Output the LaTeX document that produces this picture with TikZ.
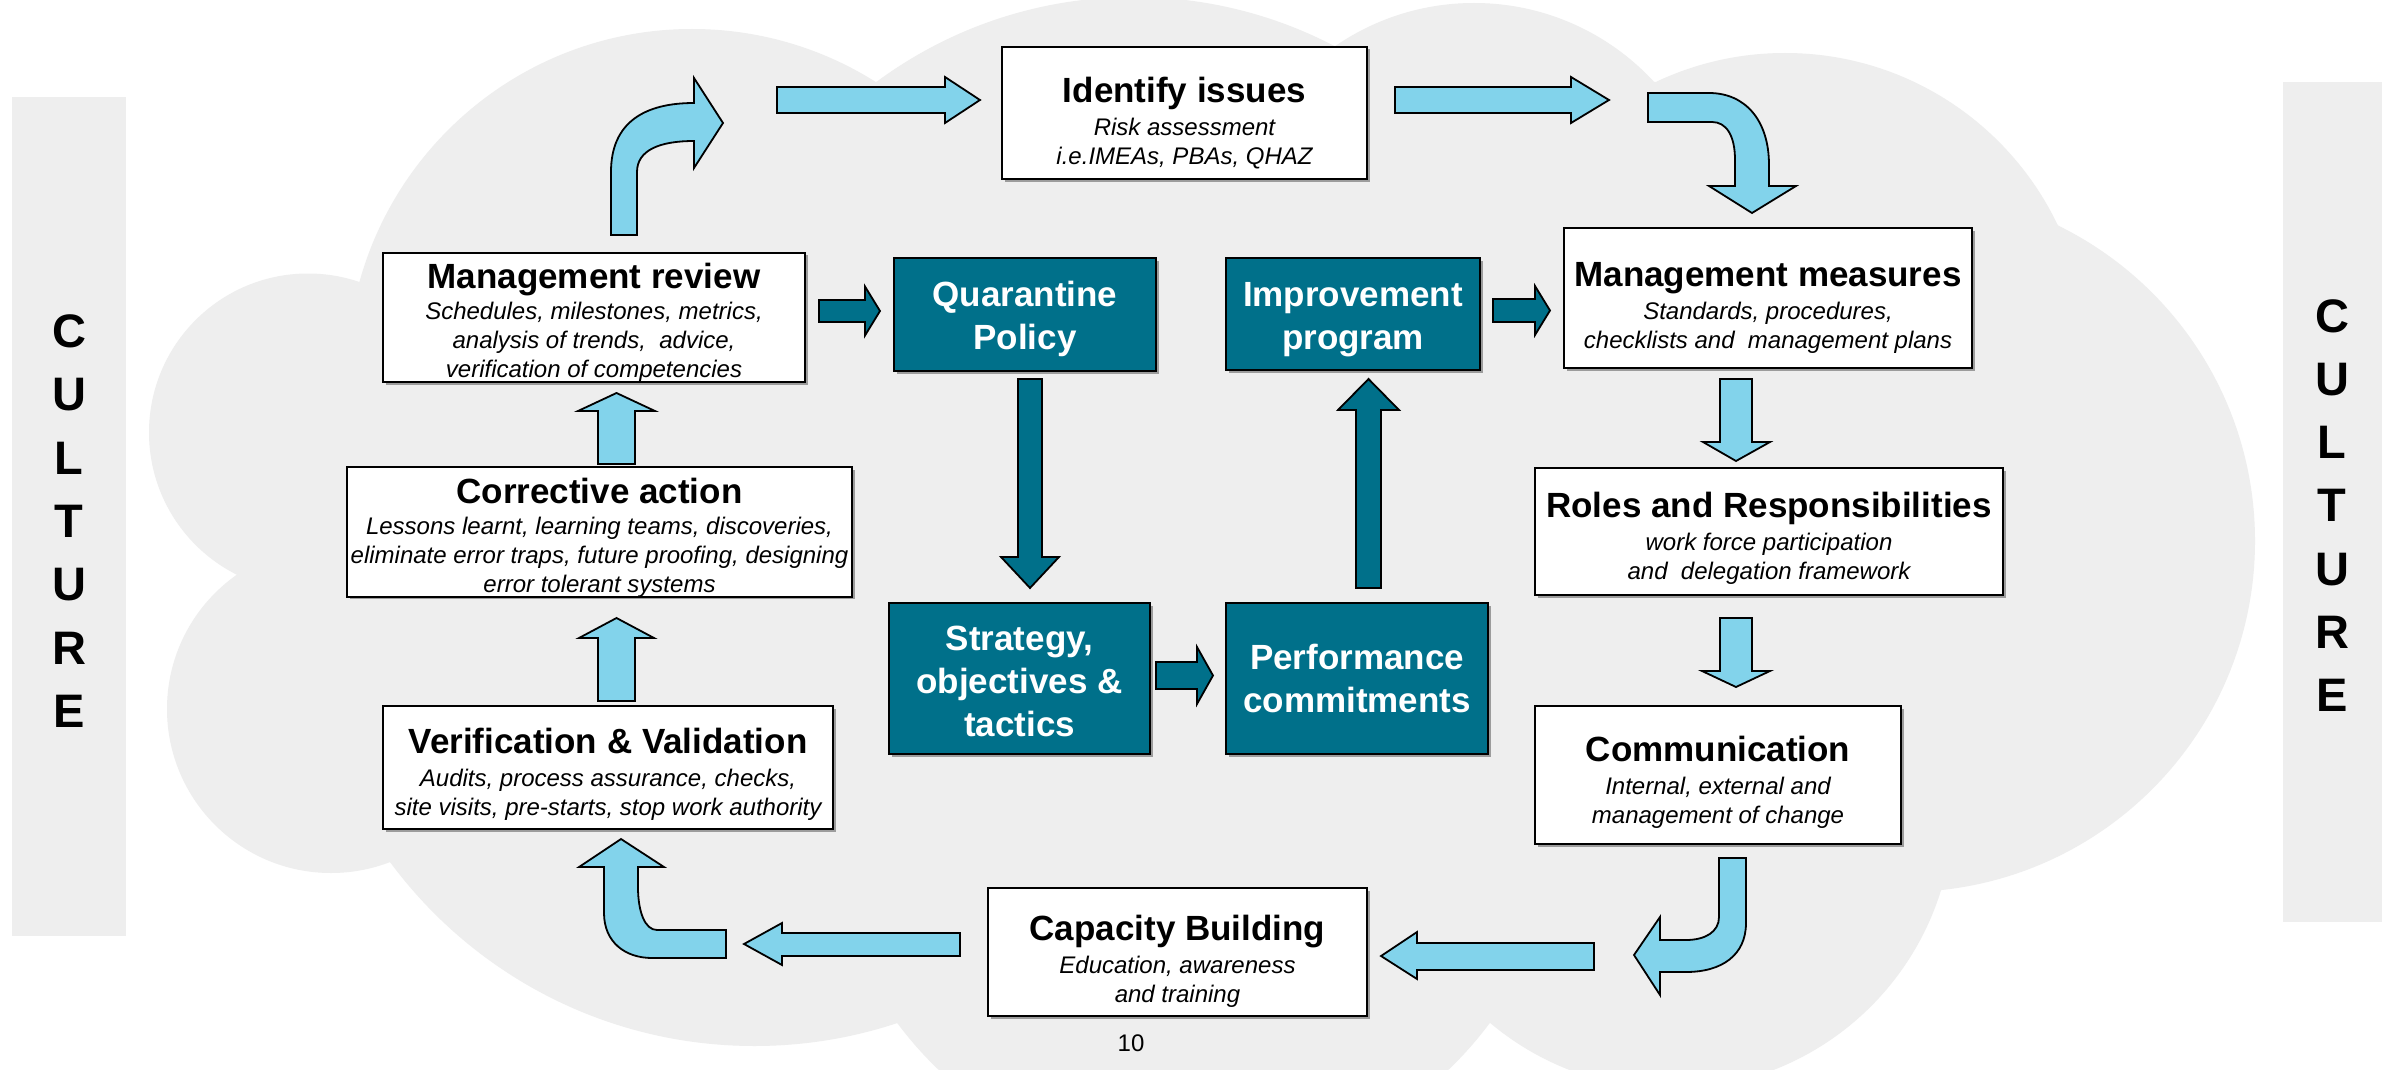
\documentclass[tikz,border=0pt]{standalone}
\usepackage{fontspec}
\setmainfont{Liberation Sans}
\usetikzlibrary{shadows}
\definecolor{cloudgray}{HTML}{EEEEEE}
\definecolor{lightarr}{RGB}{130,211,235}
\definecolor{tealbox}{RGB}{0,112,138}
\newcommand\boxtitle{\fontsize{35}{40}\selectfont\bfseries\upshape}
\newcommand\boxsub{\fontsize{24}{29}\selectfont\itshape}
\newcommand\darktxt{\fontsize{35}{43}\selectfont\bfseries}
\newcommand\ttlline[2]{{\boxtitle\rule{0pt}{#1pt}#2}}
\begin{document}
\begin{tikzpicture}[x=1pt,y=-1pt,
  wbox/.style={draw=black, line width=2pt, fill=white, align=center, inner sep=0pt, font=\boxsub,
    drop shadow={shadow xshift=2.5pt, shadow yshift=-2.5pt, fill=black!60, opacity=0.6}},
  dbox/.style={draw=black, line width=2pt, fill=tealbox, text=white, align=center, inner sep=0pt,
    font=\darktxt, drop shadow={shadow xshift=2.5pt, shadow yshift=-2.5pt, fill=black!60, opacity=0.6}},
  larr/.style={fill=lightarr, draw=black, line width=1.8pt, line join=miter},
  darr/.style={fill=tealbox, draw=black, line width=1.8pt, line join=miter},
  bar/.style={fill=cloudgray, draw=none},
  cultxt/.style={font=\fontsize{47}{63.3}\selectfont\bfseries, align=center, inner sep=0pt}]
\useasboundingbox (0,0) rectangle (2386,1070);
\clip (0,0) rectangle (2386,1070);
\fill[white] (0,0) rectangle (2386,1070);
% cloud
\begin{scope}[fill=cloudgray]
\fill (360,282) -- (876,82) -- (1335,46) -- (1655,82) -- (2058,225) -- (1941,890)
      -- (1490,1023) -- (897,1023) -- (390,862) -- (237,575) -- cycle;
\fill (692,374) circle[radius=345pt];
\fill (1134,430) circle[radius=433pt];
\fill (1474,248) circle[radius=245pt];
\fill (1785,355) circle[radius=302pt];
\fill (1904,541) circle[radius=351pt];
\fill (1671.5,807) circle[radius=282pt];
\fill (1193.5,803) circle[radius=369pt];
\fill (754.5,593) circle[radius=453pt];
\fill (331,709) circle[radius=164pt];
\fill (308,432.5) circle[radius=159pt];
\end{scope}
% culture bars
\fill[bar] (12,97) rectangle (126,936);
\fill[bar] (2283,82) rectangle (2382,922);
\node[cultxt] (cultL) at (69,521) {C\\U\\L\\T\\U\\R\\E};
\node[cultxt] (cultR) at (2332,505.5) {C\\U\\L\\T\\U\\R\\E};
% white boxes
\node[wbox, minimum width=365pt, minimum height=132pt] (ident) at (1184.5,113)
  {\ttlline{46}{Identify issues}\\[4pt]Risk assessment\\i.e.IMEAs, PBAs, QHAZ};
\node[wbox, minimum width=408pt, minimum height=140pt] (mm) at (1768,298)
  {\ttlline{43}{Management measures}\\[4pt]Standards, procedures,\\checklists and\ \ management plans};
\node[wbox, minimum width=468pt, minimum height=127pt] (roles) at (1769,531.5)
  {\ttlline{39}{Roles and Responsibilities}\\[4pt]work force participation\\and\ \ delegation framework};
\node[wbox, minimum width=366pt, minimum height=138pt] (comm) at (1718,775)
  {\ttlline{39}{Communication}\\[4pt]Internal, external and\\management of change};
\node[wbox, minimum width=379pt, minimum height=128pt] (cap) at (1177.5,952)
  {\ttlline{44}{Capacity Building}\\[4pt]Education, awareness\\and training};
\node[wbox, minimum width=450pt, minimum height=123pt] (vv) at (608,767.5)
  {\ttlline{39}{Verification \& Validation}\\[4pt]Audits, process assurance, checks,\\site visits, pre-starts, stop work authority};
\node[wbox, minimum width=505pt, minimum height=128pt] (corr) at (599.5,532)
  {\ttlline{36}{Corrective action}\\[2pt]Lessons learnt, learning teams, discoveries,\\eliminate error traps, future proofing, designing\\error tolerant systems};
\node[wbox, minimum width=422pt, minimum height=123pt] (mr) at (594,317.5)
  {\ttlline{36}{Management review}\\[2pt]Schedules, milestones, metrics,\\analysis of trends,\ \ advice,\\verification of competencies};
% dark boxes
\node[dbox, minimum width=262pt, minimum height=113pt] (qp) at (1025,314.5) {\rule{0pt}{34pt}Quarantine\\Policy};
\node[dbox, minimum width=254pt, minimum height=112pt] (ip) at (1353,314) {\rule{0pt}{36pt}Improvement\\program};
\node[dbox, minimum width=261pt, minimum height=151pt] (st) at (1019.5,678.5) {\rule{0pt}{30pt}Strategy,\\objectives \&\\tactics};
\node[dbox, minimum width=262pt, minimum height=151pt] (pc) at (1357,678.5) {Performance\\commitments};
% dark arrows
\draw[darr] (819,300) -- (865,300) -- (865,286.5) -- (880,311) -- (865,335.5) -- (865,322) -- (819,322) -- cycle;
\draw[darr] (1493,299) -- (1535,299) -- (1535,286) -- (1550,310.5) -- (1535,335) -- (1535,322) -- (1493,322) -- cycle;
\draw[darr] (1156,662) -- (1197,662) -- (1197,647) -- (1213,675.5) -- (1197,704) -- (1197,689) -- (1156,689) -- cycle;
\draw[darr] (1018,379) -- (1042,379) -- (1042,557) -- (1059,557) -- (1030,588) -- (1001,557) -- (1018,557) -- cycle;
\draw[darr] (1356,588) -- (1381,588) -- (1381,410) -- (1399,410) -- (1368.5,379) -- (1338,410) -- (1356,410) -- cycle;
% light straight arrows
\draw[larr] (777,87) -- (945,87) -- (945,77) -- (980,100) -- (945,123) -- (945,113) -- (777,113) -- cycle;
\draw[larr] (1395,87) -- (1571,87) -- (1571,77) -- (1609,100) -- (1571,123) -- (1571,113) -- (1395,113) -- cycle;
\draw[larr] (1720,379) -- (1752,379) -- (1752,442) -- (1770,442) -- (1736,461) -- (1703,442) -- (1720,442) -- cycle;
\draw[larr] (1720,618) -- (1752,618) -- (1752,671) -- (1770,671) -- (1736,687) -- (1702,671) -- (1720,671) -- cycle;
\draw[larr] (1594,943) -- (1417,943) -- (1417,932) -- (1381,956) -- (1417,979) -- (1417,970) -- (1594,970) -- cycle;
\draw[larr] (960,933) -- (782,933) -- (782,923) -- (744,944) -- (782,965) -- (782,956) -- (960,956) -- cycle;
\draw[larr] (598,701) -- (635,701) -- (635,638) -- (654,638) -- (616.5,618) -- (579,638) -- (598,638) -- cycle;
\draw[larr] (598,464) -- (635,464) -- (635,411) -- (655,411) -- (616.5,393) -- (578,411) -- (598,411) -- cycle;
% light bent arrows
\draw[larr] (611,235) -- (611,172) .. controls (611,122) and (645,103) .. (694,103) -- (694,78) -- (723,123)
  -- (694,168) -- (694,141) .. controls (660,141) and (637,150) .. (637,172) -- (637,235) -- cycle;
\draw[larr] (1648,93) -- (1709,93) .. controls (1745,93) and (1769,120) .. (1769,165) -- (1769,186) -- (1796,186)
  -- (1752,213) -- (1709,186) -- (1735,186) -- (1735,160) .. controls (1735,135) and (1726,122) .. (1712,122) -- (1648,122) -- cycle;
\draw[larr] (1719,858) -- (1746,858) -- (1746,923) .. controls (1746,955) and (1722,972) .. (1686,972) -- (1660,972)
  -- (1660,995) -- (1634,955) -- (1660,917) -- (1660,940) -- (1686,940) .. controls (1705,940) and (1719,932) .. (1719,917) -- cycle;
\draw[larr] (726,930) -- (657,930) .. controls (645,930) and (638,912) .. (638,887) -- (638,867) -- (664,867)
  -- (621,839) -- (579,867) -- (604,867) -- (604,913) .. controls (604,942) and (625,958) .. (652,958) -- (726,958) -- cycle;
% page number
\node (pg) at (1131,1043) {\fontsize{24}{28}\selectfont 10};
\end{tikzpicture}
\end{document}
